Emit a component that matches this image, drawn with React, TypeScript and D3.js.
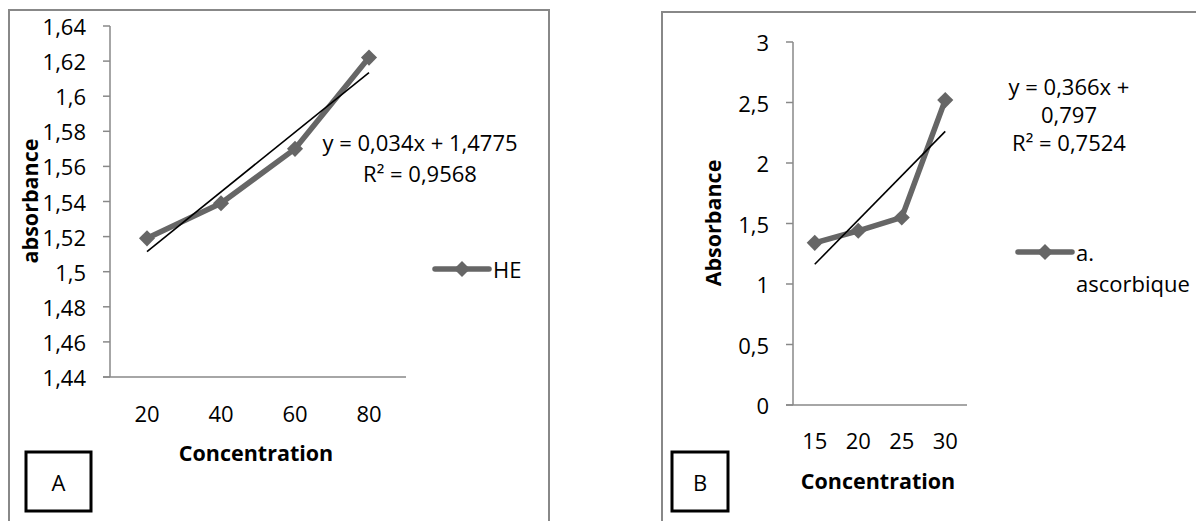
import React from 'react';
import * as d3 from 'd3';

// panel A : HE
const concA = ['20', '40', '60', '80'];
const absA = [1.519, 1.539, 1.57, 1.622];
const ticksA = [1.44, 1.46, 1.48, 1.5, 1.52, 1.54, 1.56, 1.58, 1.6, 1.62, 1.64];
const trendA = { slope: 0.034, intercept: 1.4775 };
const eqA = ['y = 0,034x + 1,4775', 'R² = 0,9568'];
const legendA = ['HE'];

// panel B : ascorbic acid
const concB = ['15', '20', '25', '30'];
const absB = [1.34, 1.44, 1.55, 2.52];
const ticksB = [0, 0.5, 1, 1.5, 2, 2.5, 3];
const trendB = { slope: 0.366, intercept: 0.797 };
const eqB = ['y = 0,366x +', '0,797', 'R² = 0,7524'];
const legendB = ['a.', 'ascorbique'];

const FONT = '"Open Sans", "Liberation Sans", sans-serif';
const GREY = '#666666';
const AXIS = '#888888';

const fmt = (v: number) => String(v).replace('.', ',');

const diamond = d3.symbol(d3.symbolSquare, 130)();

type PanelProps = {
  cats: string[];
  values: number[];
  ticks: number[];
  trend: { slope: number; intercept: number };
  eq: string[];
  eqX: number;
  eqY: number;
  eqStep: number;
  legend: string[];
  legX: number;
  legY: number;
  yTitle: string;
  yTitleX: number;
  yTitleY: number;
  x0: number;
  x1: number;
  y0: number;
  y1: number;
  xLabY: number;
  xTitleY: number;
  frame: [number, number, number];
  box: [number, number, number, number];
  boxLabel: string;
};

const Panel = (p: PanelProps) => {
  const xScale = d3.scaleBand().domain(p.cats).range([p.x0, p.x1]);
  const cx = (c: string) => (xScale(c) as number) + xScale.bandwidth() / 2;
  const yScale = d3
    .scaleLinear()
    .domain([p.ticks[0], p.ticks[p.ticks.length - 1]])
    .range([p.y0, p.y1]);

  const line = d3
    .line<number>()
    .x((d, i) => cx(p.cats[i]))
    .y((d) => yScale(d));

  // linear trend over index 1..n
  const n = p.cats.length;
  const t1 = p.trend.slope * 1 + p.trend.intercept;
  const tn = p.trend.slope * n + p.trend.intercept;

  const [fl, ft, fr] = p.frame;
  const [bx, by, bw, bh] = p.box;

  return (
    <g fontFamily={FONT}>
      {/* outer frame, open at the bottom */}
      <path
        d={`M${fl},521 V${ft} H${fr} V521`}
        fill="none"
        stroke={AXIS}
        strokeWidth={2}
      />

      {/* y axis */}
      <line x1={p.x0} x2={p.x0} y1={p.y0} y2={p.y1} stroke={AXIS} strokeWidth={1.5} />
      {p.ticks.map((t) => (
        <g key={t}>
          <line x1={p.x0 - 7} x2={p.x0} y1={yScale(t)} y2={yScale(t)} stroke={AXIS} strokeWidth={1.5} />
          <text
            x={p.x0 - 24}
            y={yScale(t)}
            textAnchor="end"
            dominantBaseline="central"
            fontSize={22}
            fill="#000"
          >
            {fmt(t)}
          </text>
        </g>
      ))}

      {/* x axis */}
      <line x1={p.x0 - 7} x2={p.x1} y1={p.y0} y2={p.y0} stroke={AXIS} strokeWidth={1.5} />
      {p.cats.map((c) => (
        <text key={c} x={cx(c)} y={p.xLabY} textAnchor="middle" dominantBaseline="central" fontSize={22}>
          {c}
        </text>
      ))}

      <text
        x={(p.x0 + p.x1) / 2 - 2}
        y={p.xTitleY}
        textAnchor="middle"
        dominantBaseline="central"
        fontSize={21.5}
        fontWeight="bold"
      >
        Concentration
      </text>
      <text
        transform={`translate(${p.yTitleX},${p.yTitleY}) rotate(-90)`}
        textAnchor="middle"
        dominantBaseline="central"
        fontSize={21.5}
        fontWeight="bold"
      >
        {p.yTitle}
      </text>

      {/* series */}
      <path d={line(p.values) || ''} fill="none" stroke={GREY} strokeWidth={5.5} strokeLinejoin="round" />
      {p.values.map((v, i) => (
        <path
          key={i}
          d={diamond || ''}
          transform={`translate(${cx(p.cats[i])},${yScale(v)}) rotate(45)`}
          fill={GREY}
        />
      ))}

      {/* trendline */}
      <line
        x1={cx(p.cats[0])}
        y1={yScale(t1)}
        x2={cx(p.cats[n - 1])}
        y2={yScale(tn)}
        stroke="#000"
        strokeWidth={1.6}
      />

      {/* equation */}
      {p.eq.map((s, i) => (
        <text key={i} x={p.eqX} y={p.eqY + i * p.eqStep} textAnchor="middle" dominantBaseline="central" fontSize={22}>
          {s}
        </text>
      ))}

      {/* legend */}
      <line x1={p.legX} x2={p.legX + 54} y1={p.legY} y2={p.legY} stroke={GREY} strokeWidth={5.5} strokeLinecap="round" />
      <path d={diamond || ''} transform={`translate(${p.legX + 27},${p.legY}) rotate(45)`} fill={GREY} />
      {p.legend.map((s, i) => (
        <text key={i} x={p.legX + 58} y={p.legY + i * 31} dominantBaseline="central" fontSize={22}>
          {s}
        </text>
      ))}

      {/* panel letter */}
      <rect x={bx} y={by} width={bw} height={bh} fill="#fff" stroke="#000" strokeWidth={3} />
      <text x={bx + bw / 2} y={by + bh / 2} textAnchor="middle" dominantBaseline="central" fontSize={22}>
        {p.boxLabel}
      </text>
    </g>
  );
};

export default function App() {
  return (
    <svg
      width={1196}
      height={521}
      style={{ position: 'absolute', left: 0, top: 0, background: '#fff' }}
    >
      <Panel
        cats={concA}
        values={absA}
        ticks={ticksA}
        trend={trendA}
        eq={eqA}
        eqX={420}
        eqY={142}
        eqStep={31}
        legend={legendA}
        legX={435}
        legY={269}
        yTitle="absorbance"
        yTitleX={29}
        yTitleY={201}
        x0={110}
        x1={406}
        y0={377}
        y1={26}
        xLabY={413}
        xTitleY={452}
        frame={[9, 10, 549]}
        box={[26, 452, 65, 59]}
        boxLabel="A"
      />
      <Panel
        cats={concB}
        values={absB}
        ticks={ticksB}
        trend={trendB}
        eq={eqB}
        eqX={1069}
        eqY={86}
        eqStep={28}
        legend={legendB}
        legX={1018}
        legY={252}
        yTitle="Absorbance"
        yTitleX={712}
        yTitleY={223}
        x0={793}
        x1={967}
        y0={405}
        y1={42}
        xLabY={440}
        xTitleY={480}
        frame={[662, 12, 1300]}
        box={[672, 452, 56, 59]}
        boxLabel="B"
      />
    </svg>
  );
}
